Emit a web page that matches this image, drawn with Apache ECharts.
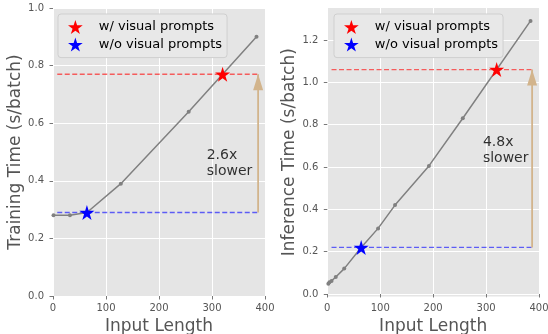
<!DOCTYPE html>
<html>
<head>
<meta charset="utf-8">
<script src="https://cdn.jsdelivr.net/npm/echarts@6/dist/echarts.min.js"></script>
<style>
  html, body { margin: 0; padding: 0; background: #fff; }
  #chart { width: 548px; height: 334px; }
</style>
</head>
<body>
<div id="chart"></div>
<script>
// training time vs input length
const trainX = [1, 32, 64, 128, 256, 384];
const trainY = [0.28, 0.28, 0.29, 0.39, 0.64, 0.90];
// inference time vs input length
const inferX = [2, 4, 8, 16, 32, 64, 96, 128, 192, 256, 384];
const inferY = [0.048, 0.055, 0.062, 0.08, 0.12, 0.22, 0.31, 0.42, 0.605, 0.83, 1.29];

const names = ['w/ visual prompts', 'w/o visual prompts'];
const trainStars = [[320, 0.77], [64, 0.29]];
const inferStars = [[320, 1.06], [64, 0.22]];

const guideFrom = 8, guideTo = 390, arrowX = 387;
const trainNote = [[290, 0.462]], inferNote = [[294, 0.68]];
const trainText = '2.6x\nslower', inferText = '4.8x\nslower';

const xTicks = [0, 100, 200, 300, 400];
const trainTicks = [0, 0.2, 0.4, 0.6, 0.8, 1.0];
const inferTicks = [0, 0.2, 0.4, 0.6, 0.8, 1.0, 1.2];

const FONT = 'DejaVu Sans';
const STAR = 'path://M50,0 L61.2,34.5 L97.6,34.5 L68.2,55.9 L79.4,90.5 L50,69.1 L20.6,90.5 L31.8,55.9 L2.4,34.5 L38.8,34.5 Z';
const zip = (xs, ys) => xs.map((x, i) => [x, ys[i]]);

const chart = echarts.init(document.getElementById('chart'));

function xAxisFor (idx) {
    return {
        gridIndex: idx, type: 'value', min: 0, max: 400, interval: 100,
        name: 'Input Length', nameLocation: 'middle', nameGap: 15,
        nameTextStyle: {fontFamily: FONT, fontSize: 17, color: '#555'},
        axisLine: {show: false},
        axisTick: {show: true, length: 3.5, lineStyle: {color: '#555', width: 0.8}},
        axisLabel: {fontFamily: FONT, fontSize: 10, color: '#555', margin: 7},
        splitLine: {show: true, lineStyle: {color: '#fff', width: 1}}
    }
}

function yAxisFor (idx, name, min, max, ticks) {
    return {
        gridIndex: idx, type: 'value', min: min, max: max,
        name: name, nameLocation: 'middle', nameGap: 26,
        nameTextStyle: {fontFamily: FONT, fontSize: 17, color: '#555'},
        axisLine: {show: false},
        axisTick: {show: true, length: 3.5, customValues: ticks, lineStyle: {color: '#555', width: 0.8}},
        axisLabel: {fontFamily: FONT, fontSize: 10, color: '#555', margin: 9, customValues: ticks,
            formatter: v => v.toFixed(1)},
        splitLine: {show: true, lineStyle: {color: '#fff', width: 1}}
    }
}

function legendFor (left) {
    return {
        left: left, top: 14, orient: 'vertical',
        data: names.map(n => ({name: n, icon: STAR})),
        itemWidth: 15, itemHeight: 14, itemGap: 3.6,
        padding: [6, 5, 6, 10],
        backgroundColor: '#e8e8e8', borderColor: '#cfcfcf', borderWidth: 1, borderRadius: 3,
        itemStyle: {opacity: 1},
        textStyle: {fontFamily: FONT, fontSize: 13, color: '#000', padding: [0, 0, 0, 11]},
        selectedMode: false
    }
}

function seriesFor (idx, xs, ys, stars, note, text) {
    const axis = {xAxisIndex: idx, yAxisIndex: idx};
    const colors = ['rgba(255,0,0,0.6)', 'rgba(0,0,255,0.6)'];
    const out = [];
    // dashed guide lines
    stars.forEach((s, i) => {
        out.push(Object.assign({
            type: 'line', data: [[guideFrom, s[1]], [guideTo, s[1]]], symbol: 'none', silent: true,
            lineStyle: {color: colors[i], width: 1.3, type: [5, 2.5]}, z: 2
        }, axis));
    });
    // arrow shaft + head
    out.push(Object.assign({
        type: 'line', data: [[arrowX, stars[1][1]], [arrowX, stars[0][1]]], symbol: 'none', silent: true,
        lineStyle: {color: '#d2b48c', width: 1.8}, z: 2
    }, axis));
    out.push(Object.assign({
        type: 'scatter', data: [[arrowX, stars[0][1]]], symbol: 'triangle', symbolSize: [10, 16],
        symbolOffset: [0, 8], itemStyle: {color: '#d2b48c', opacity: 1}, silent: true, z: 2
    }, axis));
    // main curve
    out.push(Object.assign({
        type: 'line', data: zip(xs, ys), symbol: 'circle', symbolSize: 4, showSymbol: true,
        lineStyle: {color: '#808080', width: 1.5}, itemStyle: {color: '#808080'}, z: 3
    }, axis));
    // stars
    stars.forEach((s, i) => {
        out.push(Object.assign({
            type: 'scatter', name: names[i], data: [s], symbol: STAR, symbolSize: 15,
            itemStyle: {color: i === 0 ? '#ff0000' : '#0000ff', opacity: 1}, z: 5
        }, axis));
    });
    // annotation
    out.push(Object.assign({
        type: 'scatter', data: note, symbolSize: 0, silent: true, z: 4,
        label: {show: true, position: 'right', distance: 0, formatter: text,
            fontFamily: FONT, fontSize: 14, lineHeight: 16, color: '#000', align: 'left'}
    }, axis));
    return out;
}

chart.setOption({
    animation: false,
    grid: [
        {left: 53, top: 8, width: 212, height: 288, show: true, backgroundColor: '#e5e5e5', borderWidth: 0,
            outerBoundsMode: 'none'},
        {left: 327.3, top: 8, width: 211.7, height: 288.5, show: true, backgroundColor: '#e5e5e5', borderWidth: 0,
            outerBoundsMode: 'none'}
    ],
    xAxis: [xAxisFor(0), xAxisFor(1)],
    yAxis: [
        yAxisFor(0, 'Training Time (s/batch)', 0, 1.0, trainTicks),
        yAxisFor(1, 'Inference Time (s/batch)', -0.0118, 1.351, inferTicks)
    ],
    legend: [legendFor(58), legendFor(334)],
    series: [].concat(
        seriesFor(0, trainX, trainY, trainStars, trainNote, trainText),
        seriesFor(1, inferX, inferY, inferStars, inferNote, inferText)
    )
});
</script>
</body>
</html>
